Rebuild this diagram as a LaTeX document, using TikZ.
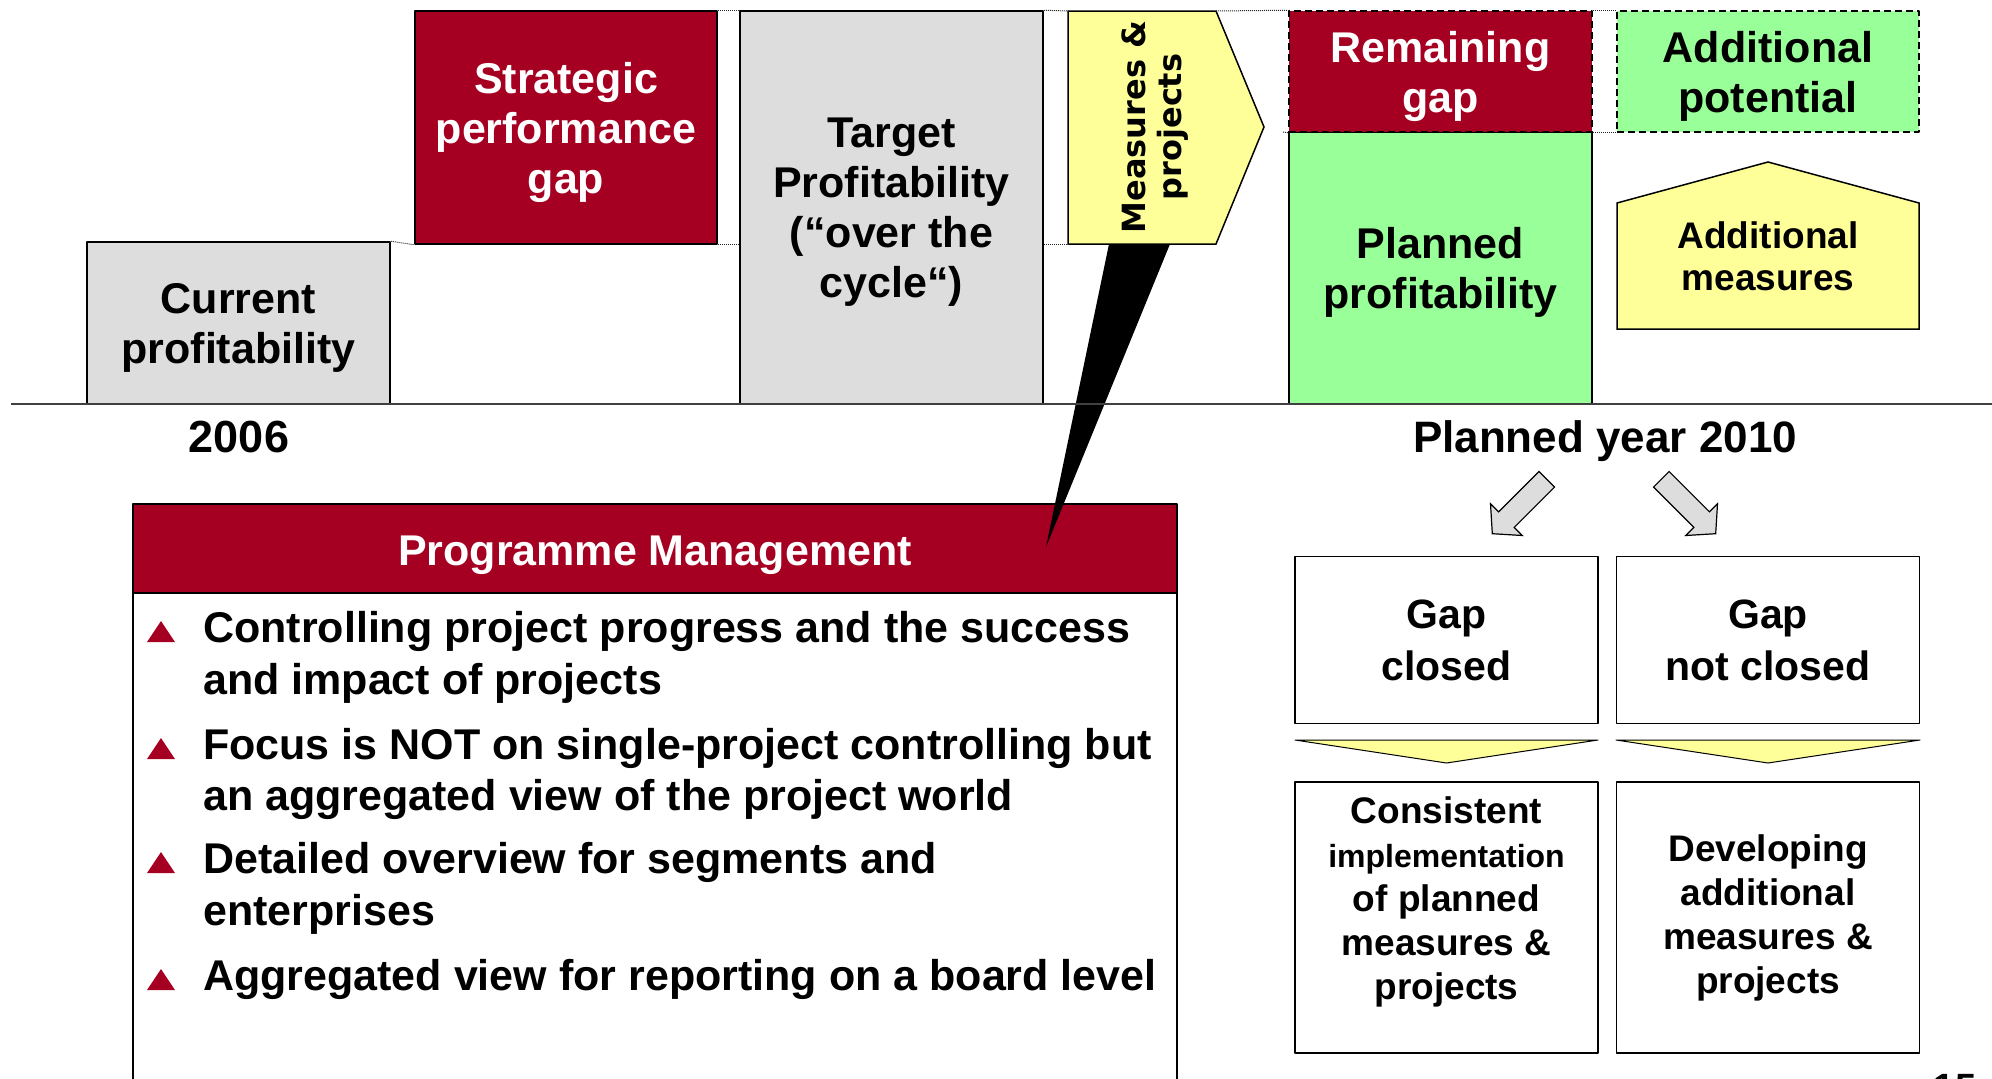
\documentclass[tikz,border=0pt]{standalone}
\usepackage{fontspec}
\setmainfont{Liberation Sans}
\newfontfamily\labelfont{DejaVu Sans}
\usetikzlibrary{positioning}
\definecolor{gapred}{RGB}{165,0,33}
\definecolor{barfill}{RGB}{221,221,221}
\definecolor{plangreen}{RGB}{153,255,153}
\definecolor{measyellow}{RGB}{255,255,153}
\tikzset{
  bar/.style={draw,line width=1.5pt,inner sep=0pt,align=center,
    font=\bfseries\fontsize{43}{50}\selectfont},
  redbar/.style={bar,fill=gapred,text=white},
  gapline/.style={dash pattern=on 7pt off 4pt},
  link/.style={line width=1pt,densely dotted,black!85},
  point/.style={inner sep=0pt,font=\bfseries\fontsize{43}{50}\selectfont},
  case/.style={draw,line width=1.5pt,inner sep=0pt,align=center,
    minimum width=303pt,font=\bfseries\fontsize{37}{44}\selectfont},
  blockarrow/.style={fill=barfill,draw,line width=1.2pt,line join=miter},
}
\begin{document}
\begin{tikzpicture}[x=1pt,y=-1pt,line join=round]
\useasboundingbox (0,0) rectangle (1992,1079);

% profitability bars 2006 -> target
\node[bar,fill=barfill,minimum width=303pt,minimum height=162pt] (cur) at (238.5,323) {Current\\\smash{profitability}};
\node[redbar,minimum width=302pt,minimum height=233pt] (strat) at (566,127.5) {Strategic\\performance\\\smash{gap}};
\node[bar,fill=barfill,minimum width=303pt,minimum height=393pt] (tgt) at (891.5,207.5) {Target\\Profitability\\(“over the\\\smash{cycle“)}};

% planned year
\node[bar,fill=plangreen,minimum width=303pt,minimum height=272pt] (plan) at (1440.5,268) {Planned\\\smash{profitability}};
\node[redbar,gapline,minimum width=303pt,minimum height=121pt] (rem) at (1440.5,71.5) {Remaining\\\smash{gap}};
\node[bar,gapline,fill=plangreen,minimum width=302pt,minimum height=121pt] (pot) at (1768,71.5) {Additional\\\smash{potential}};
\filldraw[fill=measyellow,line width=1.5pt,line join=miter] (1617,203) -- (1768,162) -- (1919,203) -- (1919,329) -- (1617,329) -- cycle;
\node[font=\bfseries\fontsize{37}{42}\selectfont,align=center] (addmeas) at (1768,256) {Additional\\measures};

% programme management panel
\draw[line width=1.5pt] (133,593) rectangle (1177,1120);
\node[redbar,minimum width=1044pt,minimum height=89pt,font=\bfseries\fontsize{43}{50}\selectfont,
  execute at begin node=\rule{0pt}{43pt}] (pm) at (655,548.5) {Programme Management};
\coordinate (tip) at (1046,547);
\fill (1109,244) -- (1170,244) -- (tip) -- cycle;

% measures & projects
\filldraw[fill=measyellow,line width=1.5pt,line join=miter] (1068,11) coordinate (m1) -- (1216,11) coordinate (m2)
  -- (1264,127) -- (1216,244) -- (1068,244) coordinate (m5) -- cycle;
\node[rotate=90,align=center,font=\labelfont\bfseries\fontsize{32}{36}\selectfont] (meas) at (1155,127) {Measures \&\\projects};

% dotted links between the bars
\draw[link] (cur.north east) -- (strat.south west);
\draw[link] (strat.north east) -- (tgt.north west);
\draw[link] (strat.south east) -- (strat.south east -| tgt.west);
\draw[link] (tgt.north east) -- (m1);
\draw[link] (m5 -| tgt.east) -- (m5);
\draw[link] (m2) -- (rem.north west);
\draw[link] (1283,132) -- (rem.south west);
\draw[link] (rem.north east) -- (pot.north west);
\draw[link] (rem.south east) -- (pot.south west);

% time axis
\draw[line width=1.5pt,black!75] (11,404) -- (1992,404);
\node[point,font=\bfseries\fontsize{45}{50}\selectfont,anchor=base] (y06) at (239,452) {2006};
\node[point,font=\bfseries\fontsize{44}{50}\selectfont,anchor=base] (y10) at (1605,452) {Planned year 2010};

% bullet list
\foreach \y/\t in {642/Controlling project progress and the success,
    694/and impact of projects,
    759/Focus is NOT on single-project controlling but,
    810/an aggregated view of the project world,
    873/Detailed overview for segments and,
    925/enterprises,
    990/Aggregated view for reporting on a board level}
  \node[point,anchor=base west] (line\y) at (203,\y) {\t};
\foreach \y in {642,759,873,990}
  \fill[gapred] (147,\y) -- (175,\y) -- (161,\y-21) -- cycle;

% the two outcomes
\filldraw[blockarrow] (1538.9,471.5) -- (1498.6,511.8) -- (1490.5,503.7) -- (1492.3,533.7)
  -- (1522.3,535.5) -- (1514.2,527.4) -- (1554.5,487.1) -- cycle;
\filldraw[blockarrow] (1669.1,471.5) -- (1709.4,511.8) -- (1717.5,503.7) -- (1715.7,533.7)
  -- (1685.7,535.5) -- (1693.8,527.4) -- (1653.5,487.1) -- cycle;

\node[case,minimum height=167pt,font=\bfseries\fontsize{41}{52}\selectfont] (closed) at (1446.5,640) {Gap\\closed};
\node[case,minimum height=167pt,font=\bfseries\fontsize{41}{52}\selectfont] (open) at (1768,640) {Gap\\not closed};

\filldraw[fill=measyellow,line width=1pt] (1295,740) -- (1598,740) -- (1446.5,763) -- cycle;
\filldraw[fill=measyellow,line width=1pt] (1616,740) -- (1920,740) -- (1768,763) -- cycle;

\node[case,minimum height=271pt] (impl) at (1446.5,917.5) {};
\node[align=center,inner sep=0pt,font=\bfseries\fontsize{37}{44}\selectfont] (impltxt) at (1446.5,902)
  {Consistent\\{\fontsize{32}{40}\selectfont implementation}\\of planned\\measures \&\\projects};
\node[case,minimum height=271pt] (dev) at (1768,917.5) {Developing\\additional\\measures \&\\projects};

\node[point,font=\bfseries\fontsize{38}{40}\selectfont,anchor=base] (page) at (1955,1100) {15};
\end{tikzpicture}
\end{document}
